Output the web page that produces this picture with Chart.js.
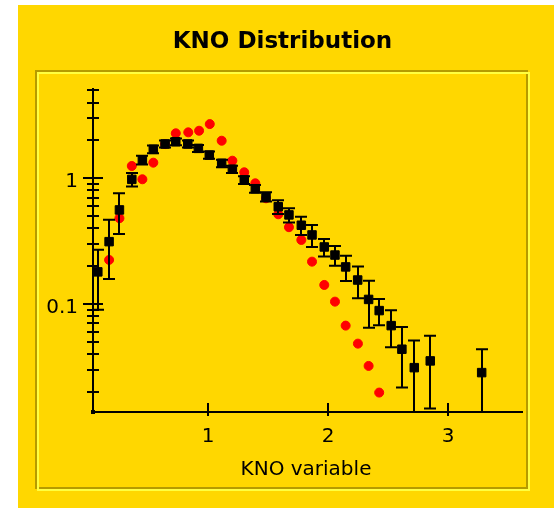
<!DOCTYPE html>
<html>
<head>
<meta charset="utf-8">
<script src="https://cdn.jsdelivr.net/npm/chart.js@4.4.0/dist/chart.umd.min.js"></script>
<style>
  html, body { margin: 0; padding: 0; background: #fff; }
</style>
</head>
<body>
<canvas id="chart" width="554" height="508"></canvas>
<script>
// Measured KNO distribution (black squares with errors)
const dataX = [0.085, 0.179, 0.265, 0.368, 0.456, 0.547, 0.645, 0.734, 0.834, 0.922,
  1.013, 1.116, 1.205, 1.304, 1.396, 1.485, 1.587, 1.676, 1.779, 1.868,
  1.970, 2.059, 2.148, 2.248, 2.339, 2.427, 2.527, 2.616, 2.719, 2.852, 3.280];
const dataY = [0.180, 0.313, 0.560, 0.98, 1.40, 1.70, 1.875, 1.955, 1.875, 1.73,
  1.53, 1.316, 1.18, 0.97, 0.826, 0.714, 0.594, 0.511, 0.423, 0.354,
  0.284, 0.245, 0.197, 0.155, 0.1086, 0.0885, 0.0672, 0.0436, 0.0311, 0.0352, 0.0284];
const dataErr = [0.09, 0.155, 0.2, 0.12, 0.11, 0.12, 0.12, 0.12, 0.12, 0.11,
  0.1, 0.09, 0.08, 0.07, 0.06, 0.06, 0.075, 0.067, 0.07, 0.07,
  0.045, 0.044, 0.045, 0.044, 0.044, 0.021, 0.022, 0.022, 0.02, 0.0205, 0.0152];

// Model curve (red dots)
const modelX = [0.179, 0.265, 0.368, 0.456, 0.547, 0.645, 0.734, 0.838, 0.928, 1.017,
  1.116, 1.205, 1.304, 1.396, 1.485, 1.587, 1.676, 1.779, 1.868, 1.970,
  2.059, 2.148, 2.250, 2.339, 2.427];
const modelY = [0.224, 0.481, 1.253, 0.982, 1.331, 1.87, 2.28, 2.32, 2.39, 2.70,
  1.99, 1.38, 1.116, 0.912, 0.693, 0.517, 0.408, 0.323, 0.217, 0.1416,
  0.1043, 0.0672, 0.0483, 0.0321, 0.0197];

// Axes
const xTicks = [1, 2, 3];
const xTickLabels = ["1", "2", "3"];
const yMajorTicks = [0.1, 1];
const yTickLabels = ["0.1", "1"];
const yMinorTicks = [0.02, 0.03, 0.04, 0.05, 0.06, 0.07, 0.08, 0.09,
  0.2, 0.3, 0.4, 0.5, 0.6, 0.7, 0.8, 0.9, 2, 3, 4, 5];

const FONT = "'DejaVu Sans', sans-serif";

const framePlugin = {
  id: "frame",
  beforeDraw(chart) {
    const ctx = chart.ctx;
    ctx.save();
    ctx.fillStyle = "#ffffff";
    ctx.fillRect(0, 0, chart.width, chart.height);
    ctx.fillStyle = "#ffd700";
    ctx.fillRect(18, 5, chart.width - 18, chart.height - 5);
    // etched border
    ctx.lineWidth = 2;
    ctx.strokeStyle = "#b59b00";
    ctx.strokeRect(36, 71, 491, 417);
    ctx.strokeStyle = "#ffff40";
    ctx.strokeRect(38, 73, 491, 417);
    // title
    ctx.fillStyle = "#000";
    ctx.font = "bold 23px " + FONT;
    ctx.textAlign = "center";
    ctx.textBaseline = "alphabetic";
    ctx.fillText("KNO Distribution", 282.5, 47.5);
    ctx.restore();
  },
  beforeDatasetsDraw(chart) {
    const ctx = chart.ctx;
    const xs = chart.scales.x;
    const ys = chart.scales.y;
    const a = chart.chartArea;
    ctx.save();
    ctx.strokeStyle = "#000";
    ctx.fillStyle = "#000";
    ctx.lineWidth = 2;
    // axis lines
    ctx.beginPath();
    ctx.moveTo(a.left, a.top);
    ctx.lineTo(a.left, a.bottom);
    ctx.lineTo(a.right, a.bottom);
    ctx.stroke();
    ctx.fillRect(a.left - 2, a.bottom - 2, 4, 4);
    // x ticks
    ctx.font = "20px " + FONT;
    ctx.textAlign = "center";
    ctx.textBaseline = "alphabetic";
    xTicks.forEach((v, i) => {
      const px = Math.round(xs.getPixelForValue(v));
      ctx.beginPath();
      ctx.moveTo(px, a.bottom - 9);
      ctx.lineTo(px, a.bottom + 4);
      ctx.stroke();
      ctx.fillText(xTickLabels[i], px, a.bottom + 30);
    });
    // y ticks
    yMinorTicks.forEach((v) => {
      const py = Math.round(ys.getPixelForValue(v));
      ctx.beginPath();
      ctx.moveTo(a.left - 6, py);
      ctx.lineTo(a.left + 6, py);
      ctx.stroke();
    });
    ctx.textAlign = "right";
    yMajorTicks.forEach((v, i) => {
      const py = Math.round(ys.getPixelForValue(v));
      ctx.beginPath();
      ctx.moveTo(a.left - 10, py);
      ctx.lineTo(a.left + 10, py);
      ctx.stroke();
      ctx.fillText(yTickLabels[i], a.left - 15, py + 9);
    });
    // x axis title
    ctx.textAlign = "center";
    ctx.fillText("KNO variable", 306, 475);
    ctx.restore();
  },
  afterDatasetsDraw(chart) {
    const ctx = chart.ctx;
    const xs = chart.scales.x;
    const ys = chart.scales.y;
    const a = chart.chartArea;
    ctx.save();
    ctx.strokeStyle = "#000";
    ctx.lineWidth = 2;
    dataX.forEach((x, i) => {
      const px = Math.round(xs.getPixelForValue(x));
      const hi = dataY[i] + dataErr[i];
      const lo = dataY[i] - dataErr[i];
      const pHi = ys.getPixelForValue(hi);
      const loClipped = lo <= ys.min;
      const pLo = loClipped ? a.bottom : ys.getPixelForValue(lo);
      ctx.beginPath();
      ctx.moveTo(px, pHi);
      ctx.lineTo(px, pLo);
      ctx.moveTo(px - 6, pHi);
      ctx.lineTo(px + 6, pHi);
      if (!loClipped) {
        ctx.moveTo(px - 6, pLo);
        ctx.lineTo(px + 6, pLo);
      }
      ctx.stroke();
    });
    ctx.restore();
  }
};

new Chart(document.getElementById("chart"), {
  type: "scatter",
  data: {
    datasets: [
      {
        label: "data",
        data: dataX.map((x, i) => ({ x: x, y: dataY[i] })),
        pointStyle: "rect",
        pointRadius: 6,
        borderWidth: 1,
        backgroundColor: "#000",
        borderColor: "#000"
      },
      {
        label: "model",
        data: modelX.map((x, i) => ({ x: x, y: modelY[i] })),
        pointStyle: "circle",
        pointRadius: 4.5,
        borderWidth: 1,
        backgroundColor: "#ff0000",
        borderColor: "#ff0000"
      }
    ]
  },
  options: {
    responsive: false,
    animation: false,
    layout: { padding: { left: 93, right: 31, top: 88, bottom: 96 } },
    plugins: {
      legend: { display: false },
      tooltip: { enabled: false },
      title: { display: false }
    },
    scales: {
      x: { type: "linear", min: 0.045, max: 3.624, display: false },
      y: { type: "logarithmic", min: 0.0138, max: 5.23, display: false }
    }
  },
  plugins: [framePlugin]
});
</script>
</body>
</html>
